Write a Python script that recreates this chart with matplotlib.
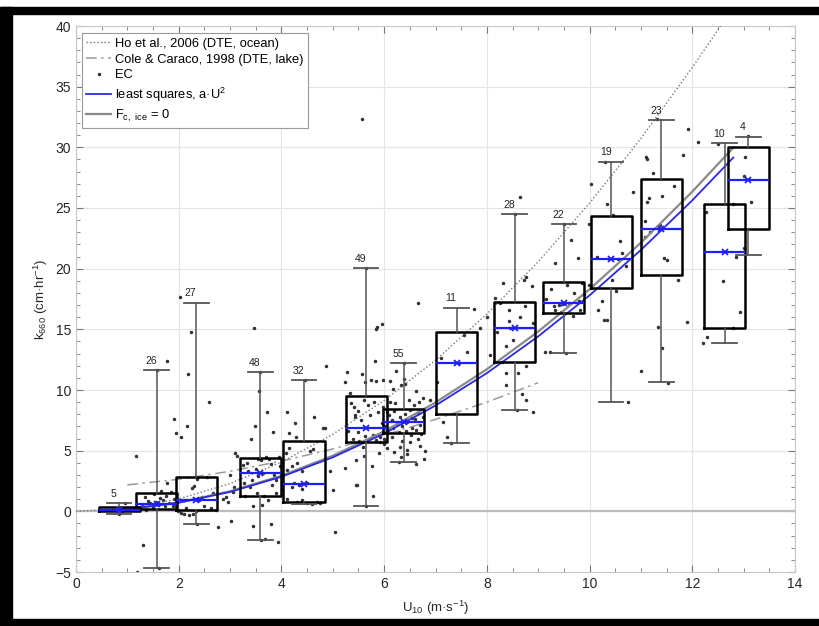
import numpy as np
import matplotlib
matplotlib.use('Agg')
import matplotlib.pyplot as plt
from matplotlib.patches import Rectangle
from matplotlib.ticker import MultipleLocator

plt.rcParams['font.family'] = ['Liberation Sans', 'DejaVu Sans']
plt.rcParams['mathtext.fontset'] = 'custom'
plt.rcParams['mathtext.rm'] = 'Liberation Sans'
plt.rcParams['mathtext.default'] = 'regular'

# Box statistics per wind-speed bin
box_pos = [0.84, 1.57, 2.34, 3.59, 4.44, 5.65, 6.38, 7.41, 8.54, 9.50, 10.42, 11.40, 12.63, 13.09]
box_n = [5, 26, 27, 48, 32, 49, 55, 11, 28, 22, 19, 23, 10, 4]
box_q1 = [0.00, 0.16, 0.10, 1.29, 0.79, 5.69, 6.48, 8.02, 12.31, 16.32, 18.43, 19.45, 15.08, 23.30]
box_med = [0.15, 0.63, 0.90, 3.16, 2.28, 6.84, 7.34, 12.20, 15.11, 17.17, 20.77, 23.30, 21.35, 27.32]
box_q3 = [0.33, 1.53, 2.80, 4.37, 5.80, 9.50, 8.43, 14.78, 17.28, 18.90, 24.34, 27.42, 25.33, 30.03]
box_lo = [-0.25, -4.70, -1.07, -2.37, 0.60, 0.46, 4.09, 5.60, 8.35, 13.07, 9.01, 10.69, 13.90, 21.13]
box_hi = [0.66, 11.65, 17.20, 11.46, 10.82, 20.05, 12.25, 16.79, 24.51, 23.68, 28.82, 32.26, 30.34, 30.88]

# Eddy covariance samples (U10, k660)
ec_points = [
    # bin 1
    (0.84, -0.20), (0.90, 0.05), (0.97, 0.18), (1.05, 0.30), (0.96, 0.66),
    # bin 2
    (1.17, 4.58), (1.31, -2.78), (1.19, -4.98), (1.22, 0.25), (1.28, 0.45), (1.34, 1.15),
    (1.40, 0.85), (1.45, 0.65), (1.49, 0.35), (1.52, 1.40), (1.56, 0.80), (1.60, 0.55),
    (1.63, 1.10), (1.66, 1.70), (1.70, 0.95), (1.73, 0.40), (1.76, 1.30), (1.78, 2.36),
    (1.81, 0.70), (1.85, 1.60), (1.88, 0.45), (1.91, 1.05), (1.58, 11.65), (1.36, 0.10),
    (1.62, -4.70), (1.90, 7.58),
    # bin 3
    (1.95, 6.43), (2.04, 6.15), (2.03, 17.70), (2.23, 14.75), (2.19, 11.32), (2.17, 7.03),
    (2.58, 9.01), (2.25, 1.90), (2.35, 2.63), (1.98, 0.05), (2.05, -0.10), (2.10, -0.20),
    (2.15, 0.30), (2.20, -0.30), (2.28, -0.20), (2.33, 0.00), (2.40, 0.90), (2.45, 1.20),
    (2.50, 0.45), (2.55, 2.80), (2.62, 0.25), (2.67, 1.50), (2.72, 0.10), (2.30, 2.10),
    (2.12, 0.90), (2.36, -1.07), (1.78, 12.39),
    # bin 4
    (2.76, -1.33), (3.01, -0.77), (2.92, 1.20), (3.00, 3.00), (3.10, 4.78), (3.13, 4.55),
    (2.95, 0.80), (3.05, 1.60), (3.08, 2.00), (2.86, 1.00), (3.27, 2.33), (3.40, 5.94),
    (3.48, 7.06), (3.56, 9.92), (3.47, 15.09), (3.71, 8.20), (3.45, -1.22), (3.68, -2.26),
    (3.79, -1.08), (3.93, -2.56), (3.84, 6.54), (3.32, 4.00), (3.35, 3.30), (3.50, 3.50),
    (3.55, 4.30), (3.60, 4.20), (3.70, 4.45), (3.75, 4.35), (3.80, 3.90), (3.86, 3.00),
    (3.90, 2.60), (3.30, 1.30), (3.38, 2.00), (3.42, 2.60), (3.52, 1.50), (3.58, 11.46),
    (3.62, 0.50), (3.66, 1.30), (3.73, 0.90), (3.82, 2.20), (3.95, 4.50), (3.90, 1.50),
    (3.25, 3.80), (3.55, 2.90), (3.65, 3.20), (3.45, 0.40), (3.60, -2.37), (3.97, 3.70),
    # bin 5
    (4.10, 8.18), (4.14, 6.43), (4.27, 7.25), (4.08, 4.78), (4.15, 5.20), (4.28, 6.15),
    (4.10, 3.40), (4.20, 3.70), (4.30, 4.00), (4.40, 3.30), (4.20, 2.00), (4.25, 2.30),
    (4.40, 1.80), (4.50, 2.30), (4.35, 2.20), (4.10, 1.00), (4.30, 0.80), (4.40, 0.90),
    (4.50, 0.70), (4.60, 0.60), (4.70, 0.80), (4.75, 0.65), (4.62, 5.10), (4.63, 7.80),
    (4.87, 12.00), (4.85, 6.90), (4.94, 3.30), (5.01, 1.76), (5.04, -1.68), (4.45, 10.82),
    (4.55, 5.00), (4.80, 6.84),
    # bin 6
    (5.24, 3.60), (5.27, 11.50), (5.33, 9.78), (5.43, 7.80), (5.46, 2.17), (5.60, 4.60),
    (5.76, 3.70), (5.78, 1.26), (5.57, 32.30), (5.65, 20.05), (5.82, 12.40), (5.84, 15.00),
    (5.95, 15.40), (5.87, 15.20), (5.74, 10.80), (5.85, 10.75), (5.98, 10.80), (5.57, 11.30),
    (5.63, 10.70), (5.24, 10.70), (5.58, 5.27), (5.91, 5.74), (5.90, 4.83), (5.47, 2.20),
    (5.65, 0.46), (5.35, 8.90), (5.42, 8.60), (5.50, 8.30), (5.44, 7.90), (5.55, 7.50),
    (5.60, 9.20), (5.68, 8.80), (5.72, 7.90), (5.80, 9.00), (5.88, 8.20), (5.95, 7.30),
    (5.50, 6.50), (5.62, 6.20), (5.70, 6.00), (5.78, 6.30), (5.85, 5.90), (5.92, 6.10),
    (6.00, 6.00), (5.40, 6.00), (5.30, 6.60), (5.52, 5.80), (5.98, 8.60), (5.45, 4.20),
    (6.02, 7.00),
    # bin 7
    (6.24, 11.60), (6.39, 10.90), (6.32, 10.40), (6.41, 10.50), (6.62, 9.94), (6.75, 9.34),
    (6.17, 10.10), (6.11, 10.75), (6.66, 17.20), (6.06, 5.20), (6.00, 5.55), (6.31, 5.33),
    (6.44, 5.06), (6.32, 4.45), (6.28, 4.10), (6.62, 3.90), (6.79, 5.00), (6.38, 12.25),
    (6.55, 7.70), (6.05, 8.20), (6.10, 7.90), (6.15, 7.50), (6.20, 8.30), (6.25, 7.20),
    (6.30, 7.80), (6.35, 7.00), (6.40, 8.00), (6.45, 7.40), (6.50, 8.35), (6.55, 6.90),
    (6.60, 7.60), (6.65, 8.10), (6.70, 7.10), (6.75, 7.80), (6.08, 6.70), (6.18, 6.90),
    (6.28, 6.50), (6.42, 6.60), (6.52, 6.30), (6.62, 6.70), (6.72, 6.40), (6.12, 9.00),
    (6.22, 8.90), (6.48, 9.20), (6.58, 8.80), (6.68, 9.00), (6.02, 5.90), (6.15, 6.10),
    (6.35, 5.80), (6.50, 5.70), (6.66, 6.00), (6.70, 5.40), (6.45, 4.70), (6.20, 4.90),
    (6.77, 4.30),
    # bin 8
    (6.90, 9.20), (7.02, 10.70), (7.15, 7.40), (7.23, 6.10), (7.62, 13.10), (7.74, 16.70),
    (7.87, 15.10), (7.30, 5.60), (7.45, 12.20), (7.55, 14.50), (7.10, 12.60),
    # bin 9
    (8.06, 12.90), (8.16, 17.60), (8.31, 18.80), (8.37, 11.40), (8.38, 10.40), (8.44, 16.60),
    (8.44, 15.70), (8.46, 15.10), (8.37, 13.60), (8.51, 14.10), (8.61, 11.40), (8.72, 19.10),
    (8.77, 19.30), (8.87, 18.60), (8.64, 16.00), (8.74, 16.90), (8.76, 12.00), (8.76, 9.20),
    (8.89, 8.20), (8.68, 9.70), (8.20, 14.80), (8.55, 24.50), (8.65, 25.90), (8.00, 16.00),
    (8.30, 12.30), (8.90, 15.50), (8.58, 8.35), (8.25, 17.20),
    # bin 10
    (9.13, 13.10), (9.23, 13.10), (9.32, 20.50), (9.33, 16.60), (9.49, 17.10), (9.56, 18.65),
    (9.63, 22.40), (9.77, 20.90), (9.80, 17.30), (9.81, 16.60), (9.50, 23.70), (9.15, 17.50),
    (9.25, 18.30), (9.40, 17.00), (9.45, 16.40), (9.60, 17.20), (9.70, 18.00), (9.85, 18.80),
    (9.30, 16.90), (9.55, 13.07), (9.68, 16.10), (9.90, 17.90),
    # bin 11
    (9.99, 23.70), (9.99, 18.65), (10.17, 16.60), (10.33, 25.30), (10.34, 15.80), (10.43, 19.10),
    (10.51, 18.20), (10.64, 21.30), (10.71, 20.20), (10.75, 9.00), (10.30, 28.80), (10.46, 24.40),
    (10.84, 26.30), (10.25, 17.30), (10.28, 15.80), (10.03, 27.00), (10.55, 20.80), (10.60, 22.30),
    (10.15, 21.00),
    # bin 12
    (11.01, 11.60), (11.11, 25.50), (11.34, 15.20), (11.42, 13.50), (11.45, 20.85), (11.51, 20.70),
    (11.73, 19.10), (11.10, 29.20), (11.12, 29.00), (11.24, 27.90), (11.16, 25.80), (11.42, 26.00),
    (11.08, 23.90), (11.18, 23.05), (11.37, 23.60), (11.08, 22.60), (11.31, 32.30), (11.53, 10.60),
    (11.90, 15.60), (11.81, 29.40), (11.92, 31.50), (12.11, 30.40), (11.65, 26.80),
    # bin 13
    (12.27, 24.70), (12.80, 25.30), (12.85, 21.00), (12.93, 16.40), (12.79, 15.10), (12.29, 14.40),
    (12.21, 13.90), (12.50, 30.30), (12.60, 19.00), (13.00, 27.60),
    # bin 14
    (13.03, 29.20), (13.15, 25.50), (13.09, 30.90), (13.01, 21.70),
]

# Parameterisations, tabulated along U10
ho_u = [0, 1, 2, 3, 4, 5, 6, 7, 8, 9, 10, 11, 12, 12.55]
ho_k = [0, 0.25, 1.02, 2.29, 4.06, 6.35, 9.14, 12.45, 16.26, 20.57, 25.40, 30.73, 36.58, 40.0]
cole_u = [1, 2, 3, 4, 5, 6, 7, 8, 9]
cole_k = [2.18, 2.64, 3.30, 4.14, 5.14, 6.28, 7.58, 9.00, 10.60]
fit_u = [0.5, 1, 2, 3, 4, 5, 6, 7, 8, 9, 10, 11, 12, 12.8]
ls_k = [0.04, 0.18, 0.71, 1.60, 2.85, 4.45, 6.41, 8.72, 11.39, 14.42, 17.80, 21.54, 25.63, 29.16]
ice_k = [0.05, 0.18, 0.73, 1.65, 2.93, 4.58, 6.59, 8.97, 11.71, 14.82, 18.30, 22.14, 26.35, 29.98]

fig = plt.figure(figsize=(8.19, 6.26), dpi=100)
ax = fig.add_axes([76 / 819, 54 / 626, 719 / 819, 546 / 626])

ax.axhline(0, color='#bdbdbd', lw=1.6, zorder=1)

ho_line, = ax.plot(ho_u, ho_k, color='#777777', lw=1.0, ls=(0, (1, 1.6)), zorder=3,
                   label='Ho et al., 2006 (DTE, ocean)')
cole_line, = ax.plot(cole_u, cole_k, color='#9a9a9a', lw=1.1, ls=(0, (7, 3, 1.5, 3)), zorder=3,
                     label='Cole & Caraco, 1998 (DTE, lake)')
ec_u = [p[0] for p in ec_points]
ec_k = [p[1] for p in ec_points]
ec_dots, = ax.plot(ec_u, ec_k, ls='none', marker='.', ms=3, color='#333333', zorder=2, label='EC')
ice_line, = ax.plot(fit_u, ice_k, color='#8a8a8a', lw=1.6, zorder=4, label='F$_{c,\\ ice}$ = 0')
ls_line, = ax.plot(fit_u, ls_k, color='#2a2ae0', lw=1.3, zorder=5, label='least squares, a·U$^{2}$')

stats = []
for i in range(len(box_pos)):
    stats.append(dict(med=box_med[i], q1=box_q1[i], q3=box_q3[i],
                      whislo=box_lo[i], whishi=box_hi[i], mean=box_med[i], fliers=[]))

ax.bxp(stats, positions=box_pos, widths=0.8, capwidths=0.48, showmeans=True, manage_ticks=False,
       boxprops=dict(color='black', lw=1.8),
       whiskerprops=dict(color='#555555', lw=1.1),
       capprops=dict(color='#555555', lw=1.3),
       medianprops=dict(color='#1e1eff', lw=1.6),
       meanprops=dict(marker='x', markeredgecolor='#1e1eff', markersize=5, markeredgewidth=1.3),
       zorder=6)

for x, top, n in zip(box_pos, box_hi, box_n):
    ax.annotate(str(n), (x, top), xytext=(-4, 3), textcoords='offset points',
                ha='center', va='bottom', fontsize=7.5, color='#222222')

ax.set_xlim(0, 14)
ax.set_ylim(-5, 40)
ax.xaxis.set_major_locator(MultipleLocator(2))
ax.xaxis.set_minor_locator(MultipleLocator(0.5))
ax.yaxis.set_major_locator(MultipleLocator(5))
ax.yaxis.set_minor_locator(MultipleLocator(1))
ax.grid(True, which='major', color='#e4e4e4', lw=0.8)
ax.set_axisbelow(True)
ax.tick_params(which='both', direction='in', top=True, right=True, color='#777777',
               labelcolor='#262626', labelsize=10)
ax.tick_params(which='major', length=5)
ax.tick_params(which='minor', length=3)
for s in ax.spines.values():
    s.set_color('#c8c8c8')

ax.set_xlabel('U$_{10}$ (m·s$^{-1}$)', fontsize=9.5, color='#262626', labelpad=6)
ax.set_ylabel('k$_{660}$ (cm·hr$^{-1}$)', fontsize=9.5, color='#262626', labelpad=4)

leg = ax.legend(handles=[ho_line, cole_line, ec_dots, ls_line, ice_line],
                loc='upper left', bbox_to_anchor=(0.008, 0.987), borderaxespad=0,
                fontsize=9.3, handlelength=1.9, labelspacing=0.3, handletextpad=0.3,
                borderpad=0.35, fancybox=False, framealpha=1, edgecolor='#9a9a9a')
leg.get_frame().set_linewidth(0.8)

# black frame around the figure
fig.add_artist(Rectangle((0, 1 - 14 / 626), 1, 7 / 626, transform=fig.transFigure, color='black'))
fig.add_artist(Rectangle((0, 0), 11.5 / 819, 1 - 7 / 626, transform=fig.transFigure, color='black'))
fig.add_artist(Rectangle((0, 0), 1, 7 / 626, transform=fig.transFigure, color='black'))

fig.savefig('out.png', dpi=100)
